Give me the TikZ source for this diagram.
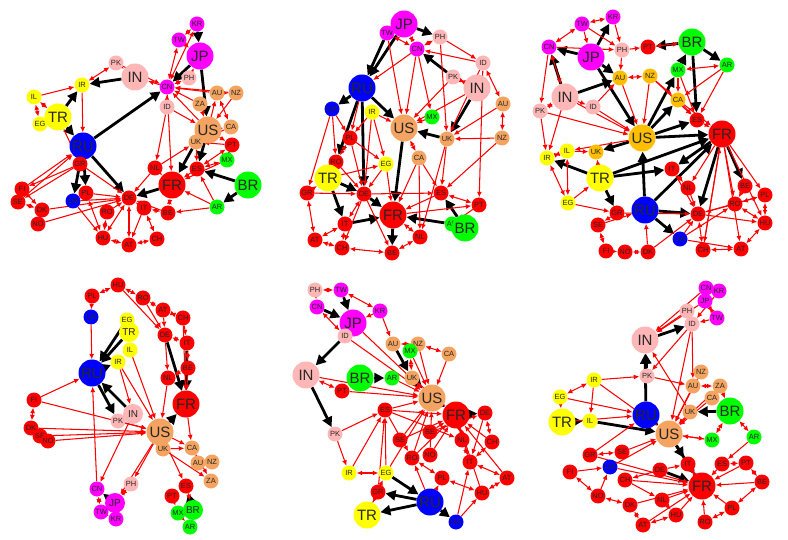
\documentclass[tikz,border=0pt]{standalone}
\usepackage{fontspec}
\setmainfont{Liberation Sans}
\usetikzlibrary{arrows.meta}
\pgfdeclarelayer{bg}
\pgfsetlayers{bg,main}
\definecolor{cR}{RGB}{255,0,0}
\definecolor{cB}{RGB}{0,0,255}
\definecolor{cY}{RGB}{255,255,0}
\definecolor{cM}{RGB}{255,0,255}
\definecolor{cP}{RGB}{255,182,182}
\definecolor{cO}{RGB}{244,164,96}
\definecolor{cG}{RGB}{0,255,0}
\definecolor{cA}{RGB}{255,190,0}
\tikzset{
 nd/.style={circle,inner sep=0pt,text=black!85,minimum size=15pt,font=\fontsize{7.5}{7.5}\selectfont},
 bg/.style={minimum size=27pt,font=\fontsize{15}{15}\selectfont},
 md/.style={minimum size=20pt,font=\fontsize{10}{10}\selectfont},
 R/.style={fill=cR},B/.style={fill=cB},Y/.style={fill=cY},M/.style={fill=cM},
 P/.style={fill=cP},O/.style={fill=cO},G/.style={fill=cG},A/.style={fill=cA},
 re/.style={draw=cR,line width=1.05pt,-{Latex[length=5.5pt,width=5pt]}},
 rb/.style={draw=cR,line width=1.05pt,{Latex[length=5.5pt,width=5pt]}-{Latex[length=5.5pt,width=5pt]}},
 be/.style={draw=black,line width=2.8pt,-{Triangle[length=10pt,width=10pt]}}
}
\newcommand\mk[5]{\node[nd,#5] (#1) at (#2,#3) {#4};}
\begin{document}
\begin{tikzpicture}[x=1pt,y=-1pt]
\begin{pgfonlayer}{bg}
\fill[white] (0,0) rectangle (788,540);
\end{pgfonlayer}
\useasboundingbox (0,0) rectangle (788,540);
% ---------- panel 1 ----------
\mk{aIL}{34}{97}{IL}{Y}\mk{aEG}{40}{124}{EG}{Y}\mk{aTR}{58}{117}{TR}{Y,bg}\mk{aIR}{82}{85}{IR}{Y}
\mk{aPK}{116}{63}{PK}{P}\mk{aIN}{135}{77}{IN}{P,bg}\mk{aKR}{197}{24}{KR}{M}\mk{aTW}{179}{40}{TW}{M}
\mk{aJP}{200}{56}{JP}{M,bg}\mk{aPH}{189}{78}{PH}{P}\mk{aCN}{167}{87}{CN}{M}\mk{aID}{167}{107}{ID}{P}
\mk{aAU}{217}{93}{AU}{O}\mk{aNZ}{236}{93}{NZ}{O}\mk{aZA}{200}{104}{ZA}{O}\mk{aUS}{208}{130}{US}{O,bg}
\mk{aCA}{231}{127}{CA}{O}\mk{aRU}{83}{146}{RU}{B,bg}\mk{aGR}{80}{164}{GR}{R}\mk{aUA}{73}{201}{UA}{B}
\mk{aPL}{86}{193}{PL}{R}\mk{aFI}{22}{189}{FI}{R}\mk{aSE}{18}{202}{SE}{R}\mk{aDK}{42}{210}{DK}{R}
\mk{aNO}{38}{224}{NO}{R}\mk{aDE}{129}{198}{DE}{R}\mk{aRO}{107}{212}{RO}{R}\mk{aHU}{103}{238}{HU}{R}
\mk{aAT}{129}{245}{AT}{R}\mk{aUK}{196}{142}{UK}{O}\mk{aPT}{232}{145}{PT}{R}\mk{aMX}{227}{160}{MX}{G}
\mk{aES}{197}{169}{ES}{R}\mk{aFR}{172}{185}{FR}{R,bg}\mk{aNL}{155}{168}{NL}{R}\mk{aBR}{248}{185}{BR}{G,bg}
\mk{aAR}{217}{207}{AR}{G}\mk{aBE}{168}{213}{BE}{R}\mk{aIT}{144}{208}{IT}{R}\mk{aCH}{157}{239}{CH}{R}
\begin{pgfonlayer}{bg}
\foreach \s/\t in {aIN/aIR,aTR/aIR,aTR/aRU,aRU/aCN,aJP/aUS,aJP/aCN,aKR/aJP,aRU/aUA,aRU/aPL,aRU/aDE,aUS/aES,aUK/aFR,aBR/aES,aBR/aAR,aMX/aPT,aFR/aDE}
 \draw[be] (\s) -- (\t);
\foreach \s/\t in {aIL/aTR,aIL/aEG,aEG/aTR,aIR/aPK,aPK/aIN,aCN/aTW,aCN/aKR,aTW/aKR,aCN/aPH,aAU/aNZ,aAU/aCA,aUS/aCA,aFI/aSE,aSE/aDK,aDK/aNO,aHU/aAT,aAT/aCH,aIT/aCH,aIT/aBE,aNL/aFR,aES/aPT,aMX/aES,aRO/aHU,aPL/aHU,aDE/aHU,aDE/aAT,aBE/aFR}
 \draw[rb] (\s) -- (\t);
\foreach \s/\t in {aIL/aIR,aIR/aRU,aTR/aGR,aGR/aFI,aGR/aSE,aFI/aDK,aNO/aDE,aDK/aDE,aUA/aDE,aPL/aDE,aGR/aDE,aRO/aDE,aIT/aDE,aNL/aDE,aNL/aUK,aES/aFR,aAR/aFR,aAR/aES,aAR/aBE,aMX/aFR,aPT/aUK,aCN/aIN,aPK/aCN,aPH/aJP,aTW/aJP,aID/aCN,aAU/aCN,aZA/aCN,aNZ/aCN,aUS/aCN,aID/aUS,aZA/aUS,aNZ/aUS,aUS/aAU,aCN/aFR,aID/aNL,aUK/aES,aUS/aUK,aFI/aRU,aSE/aRU,aUS/aPT,aCA/aUK,aUA/aHU,aGR/aRU,aIT/aAT,aBE/aDE}
 \draw[re] (\s) -- (\t);
\end{pgfonlayer}
% ---------- panel 2 ----------
\mk{bTW}{387}{33}{TW}{M}\mk{bJP}{404}{24}{JP}{M,bg}\mk{bPH}{440}{37}{PH}{P}\mk{bCN}{417}{49}{CN}{M}
\mk{bID}{483}{63}{ID}{P}\mk{bPK}{453}{77}{PK}{P}\mk{bIN}{477}{88}{IN}{P,bg}\mk{bRU}{362}{88}{RU}{B,bg}
\mk{bUA}{332}{109}{UA}{B}\mk{bIR}{372}{112}{IR}{Y}\mk{bUS}{404}{128}{US}{O,bg}\mk{bMX}{432}{117}{MX}{G}
\mk{bAU}{503}{104}{AU}{O}\mk{bUK}{447}{139}{UK}{O}\mk{bNZ}{502}{138}{NZ}{O}\mk{bPL}{350}{138}{PL}{R}
\mk{bRO}{336}{162}{RO}{R}\mk{bCA}{419}{158}{CA}{O}\mk{bEG}{386}{164}{EG}{Y}\mk{bTR}{328}{178}{TR}{Y,bg}
\mk{bGR}{307}{193}{GR}{R}\mk{bDE}{364}{194}{DE}{R}\mk{bES}{441}{193}{ES}{R}\mk{bPT}{479}{205}{PT}{R}
\mk{bFR}{393}{215}{FR}{R,bg}\mk{bIT}{345}{224}{IT}{R}\mk{bAR}{452}{224}{AR}{G}\mk{bBR}{465}{228}{BR}{G,bg}
\mk{bAT}{315}{240}{AT}{R}\mk{bCH}{342}{248}{CH}{R}\mk{bNL}{420}{237}{NL}{R}\mk{bBE}{392}{253}{BE}{R}
\begin{pgfonlayer}{bg}
\foreach \s/\t in {bTW/bRU,bJP/bRU,bRU/bUA,bRU/bUS,bRU/bDE,bRU/bRO,bTR/bIT,bTR/bDE,bIT/bFR,bUS/bFR,bAR/bFR,bBR/bES,bPK/bCN,bIN/bUK,bJP/bPH,bUK/bUS,bDE/bFR,bFR/bBE}
 \draw[be] (\s) -- (\t);
\foreach \s/\t in {bTW/bCN,bJP/bCN,bPH/bCN,bAU/bNZ,bPK/bIN,bUS/bCA,bES/bPT,bFR/bNL,bNL/bBE,bBE/bCH,bCH/bIT,bIT/bAT,bAT/bGR,bGR/bTR,bPL/bRO,bRO/bTR,bIT/bDE,bAT/bCH,bID/bAU}
 \draw[rb] (\s) -- (\t);
\foreach \s/\t in {bPH/bID,bID/bCN,bAU/bUK,bNZ/bUK,bID/bUK,bPK/bUS,bCN/bUS,bCN/bMX,bPH/bUK,bMX/bUS,bCA/bES,bUK/bES,bPT/bAR,bES/bFR,bNZ/bES,bCA/bFR,bUK/bNL,bGR/bDE,bRO/bDE,bPL/bDE,bPL/bEG,bEG/bDE,bEG/bFR,bIR/bEG,bUA/bRO,bUA/bPL,bUA/bGR,bDE/bCH,bIR/bUS,bIR/bPL,bDE/bES,bFR/bPT,bTW/bUS,bCN/bRU,bRU/bPL,bIR/bDE,bIN/bUS,bID/bPT,bTR/bEG,bCA/bNL,bDE/bBE}
 \draw[re] (\s) -- (\t);
\end{pgfonlayer}
% ---------- panel 3 ----------
\mk{cTW}{582}{24}{TW}{M}\mk{cKR}{613}{17}{KR}{M}\mk{cCN}{549}{47}{CN}{M}\mk{cJP}{591}{57}{JP}{M,bg}
\mk{cPH}{622}{50}{PH}{P}\mk{cPT}{648}{47}{PT}{R}\mk{cAU}{620}{78}{AU}{A}\mk{cNZ}{650}{76}{NZ}{A}
\mk{cIN}{565}{97}{IN}{P,bg}\mk{cID}{593}{107}{ID}{P}\mk{cPK}{540}{111}{PK}{P}\mk{cBR}{692}{42}{BR}{G,bg}
\mk{cAR}{727}{65}{AR}{G}\mk{cMX}{678}{70}{MX}{G}\mk{cCA}{678}{100}{CA}{A}\mk{cES}{697}{120}{ES}{R}
\mk{cFR}{722}{134}{FR}{R,bg}\mk{cUS}{642}{138}{US}{A,bg}\mk{cUK}{596}{152}{UK}{A}\mk{cIL}{567}{151}{IL}{Y}
\mk{cIR}{547}{158}{IR}{Y}\mk{cTR}{600}{178}{TR}{Y,bg}\mk{cEG}{568}{203}{EG}{Y}\mk{cGR}{617}{213}{GR}{R}
\mk{cRU}{645}{210}{RU}{B,bg}\mk{cSE}{598}{225}{SE}{R}\mk{cFI}{606}{251}{FI}{R}\mk{cNO}{625}{252}{NO}{R}
\mk{cDK}{648}{252}{DK}{R}\mk{cIT}{672}{169}{IT}{R}\mk{cNL}{688}{188}{NL}{R}\mk{cBE}{745}{186}{BE}{R}
\mk{cPL}{765}{195}{PL}{R}\mk{cRO}{735}{204}{RO}{R}\mk{cDE}{698}{214}{DE}{R}\mk{cHU}{765}{223}{HU}{R}
\mk{cUA}{680}{239}{UA}{B}\mk{cCH}{703}{250}{CH}{R}\mk{cAT}{741}{249}{AT}{R}
\begin{pgfonlayer}{bg}
\foreach \s/\t in {cJP/cCN,cJP/cKR,cJP/cAU,cIN/cAU,cJP/cUS,cIN/cCN,cBR/cPT,cBR/cAR,cMX/cBR,cBR/cES,cUS/cMX,cUS/cES,cUS/cUK,cTR/cIR,cTR/cFR,cTR/cGR,cRU/cUS,cRU/cFR,cUS/cFR,cFR/cIT,cFR/cBE,cRU/cDE,cRU/cUA,cFR/cDE,cUS/cCA,cTR/cIT}
 \draw[be] (\s) -- (\t);
\foreach \s/\t in {cTW/cKR,cTW/cCN,cCN/cIN,cPK/cIN,cAU/cNZ,cMX/cAR,cIL/cIR,cIL/cEG,cIR/cEG,cSE/cFI,cFI/cNO,cNO/cDK,cCH/cAT,cAT/cHU,cHU/cPL,cPL/cRO,cRO/cHU,cIT/cNL,cDE/cCH,cPT/cBR}
 \draw[rb] (\s) -- (\t);
\foreach \s/\t in {cTW/cJP,cTW/cPH,cKR/cPH,cIN/cID,cID/cAU,cPH/cAU,cPH/cPT,cNZ/cCA,cMX/cCA,cMX/cES,cCA/cES,cAR/cES,cAR/cCA,cES/cFR,cNZ/cES,cIL/cUK,cEG/cTR,cEG/cGR,cTR/cUK,cGR/cSE,cDK/cRU,cSE/cRU,cNL/cDE,cRO/cDE,cBE/cRO,cFR/cNL,cFR/cPL,cFR/cRO,cFR/cHU,cFR/cAT,cFR/cCH,cUA/cDE,cUA/cRO,cIT/cDE,cUS/cIL,cPK/cUS,cIN/cUS,cID/cUS,cAU/cUS,cNZ/cUS,cCA/cFR,cPK/cIR,cIN/cIR,cGR/cDE,cDK/cDE,cDE/cHU,cDE/cPL,cCN/cPK,cCN/cPH,cUA/cAT,cCH/cFR}
 \draw[re] (\s) -- (\t);
\end{pgfonlayer}
% ---------- panel 4 ----------
\mk{dHU}{118}{285}{HU}{R}\mk{dPL}{92}{296}{PL}{R}\mk{dRO}{143}{298}{RO}{R}\mk{dAT}{163}{310}{AT}{R}
\mk{dCH}{183}{318}{CH}{R}\mk{dUA}{91}{317}{UA}{B}\mk{dEG}{127}{320}{EG}{Y}\mk{dTR}{129}{332}{TR}{Y,md}
\mk{dIL}{130}{350}{IL}{Y}\mk{dDE}{165}{335}{DE}{R}\mk{dIT}{187}{343}{IT}{R}\mk{dBE}{188}{368}{BE}{R}
\mk{dNL}{168}{378}{NL}{R}\mk{dRU}{92}{373}{RU}{B,bg}\mk{dIR}{118}{362}{IR}{Y}\mk{dIN}{133}{414}{IN}{P,md}
\mk{dPK}{118}{421}{PK}{P}\mk{dFR}{186}{404}{FR}{R,bg}\mk{dUS}{160}{432}{US}{O,bg}\mk{dUK}{163}{449}{UK}{O}
\mk{dCA}{192}{448}{CA}{O}\mk{dAU}{198}{463}{AU}{O}\mk{dNZ}{212}{462}{NZ}{O}\mk{dZA}{211}{481}{ZA}{O}
\mk{dFI}{34}{400}{FI}{R}\mk{dSE}{40}{436}{SE}{R}\mk{dDK}{31}{428}{DK}{R}\mk{dNO}{48}{441}{NO}{R}
\mk{dPH}{131}{484}{PH}{P}\mk{dCN}{97}{489}{CN}{M}\mk{dJP}{115}{503}{JP}{M,md}\mk{dTW}{101}{512}{TW}{M}
\mk{dKR}{116}{519}{KR}{M}\mk{dMX}{178}{513}{MX}{G}\mk{dBR}{193}{510}{BR}{G,md}\mk{dAR}{190}{527}{AR}{G}
\mk{dPT}{172}{496}{PT}{R}\mk{dES}{186}{486}{ES}{R}
\begin{pgfonlayer}{bg}
\foreach \s/\t in {dRU/dIR,dEG/dRU,dTR/dRU,dIN/dRU,dRU/dPK,dUS/dFR,dDE/dFR,dIT/dFR,dUK/dUS,dBR/dMX,dBR/dES,dJP/dCN}
 \draw[be] (\s) -- (\t);
\foreach \s/\t in {dHU/dPL,dHU/dRO,dRO/dAT,dAT/dCH,dEG/dTR,dTR/dIL,dDE/dIT,dIT/dBE,dBE/dNL,dIN/dPK,dCA/dAU,dAU/dNZ,dFI/dDK,dDK/dSE,dSE/dNO,dCN/dTW,dTW/dKR,dJP/dPH,dMX/dAR}
 \draw[rb] (\s) -- (\t);
\foreach \s/\t in {dPL/dUA,dUA/dRU,dIR/dIN,dIL/dUS,dIR/dUS,dFI/dUS,dDK/dUS,dNO/dUS,dSE/dUS,dFI/dRU,dRO/dDE,dAT/dDE,dCH/dIT,dDE/dNL,dNL/dUS,dBE/dFR,dFR/dCA,dUS/dCA,dUS/dPH,dIN/dCN,dPH/dJP,dUK/dZA,dCA/dZA,dUS/dES,dES/dBR,dPT/dMX,dUS/dJP,dCN/dRU,dHU/dDE,dCH/dFR,dUK/dCA,dPK/dUS}
 \draw[re] (\s) -- (\t);
\end{pgfonlayer}
% ---------- panel 5 ----------
\mk{ePH}{315}{290}{PH}{P}\mk{eTW}{341}{290}{TW}{M}\mk{eCN}{317}{307}{CN}{M}\mk{eKR}{380}{311}{KR}{M}
\mk{eJP}{353}{323}{JP}{M,bg}\mk{eID}{345}{336}{ID}{P}\mk{eAU}{393}{344}{AU}{O}\mk{eNZ}{418}{344}{NZ}{O}
\mk{eMX}{410}{351}{MX}{G}\mk{eCA}{449}{354}{CA}{O}\mk{eBR}{360}{378}{BR}{G,bg}\mk{eAR}{392}{378}{AR}{G}
\mk{eUK}{412}{378}{UK}{O}\mk{eIN}{306}{375}{IN}{P,bg}\mk{ePT}{342}{391}{PT}{R}\mk{eUS}{432}{398}{US}{O,bg}
\mk{eFR}{456}{415}{FR}{R,bg}\mk{ePK}{335}{434}{PK}{P}\mk{eES}{385}{410}{ES}{R}\mk{eDE}{485}{413}{DE}{R}
\mk{eNL}{462}{440}{NL}{R}\mk{eIT}{470}{462}{IT}{R}\mk{eCH}{492}{442}{CH}{R}\mk{eAT}{507}{478}{AT}{R}
\mk{eHU}{482}{493}{HU}{R}\mk{eBE}{430}{432}{BE}{R}\mk{eIR}{349}{473}{IR}{Y}\mk{eEG}{386}{473}{EG}{Y}
\mk{eGR}{378}{492}{GR}{R}\mk{eTR}{367}{515}{TR}{Y,bg}\mk{eRU}{430}{502}{RU}{B,bg}\mk{eUA}{456}{522}{UA}{B}
\mk{ePL}{442}{478}{PL}{R}\mk{eRO}{412}{458}{RO}{R}\mk{eSE}{400}{440}{SE}{R}\mk{eNO}{430}{455}{NO}{R}
\begin{pgfonlayer}{bg}
\foreach \s/\t in {eCN/eJP,eTW/eJP,eIN/ePK,eID/eIN,eUS/eFR,eUK/eUS,eAU/eUK,eRU/eTR,eRU/eUA,eRU/eGR,eFR/eDE,eBR/eAR,eEG/eRU}
 \draw[be] (\s) -- (\t);
\foreach \s/\t in {ePH/eTW,eTW/eKR,eCN/eID,eAU/eNZ,eNZ/eCA,eMX/eUK,eIN/ePT,eIR/eEG,eGR/eTR,eDE/eCH,eCH/eIT,eIT/eAT,eAT/eHU,eNL/eIT,eFR/eNL,ePL/eRO,eHU/ePL}
 \draw[rb] (\s) -- (\t);
\foreach \s/\t in {ePH/eCN,eKR/eJP,eJP/eUS,eID/eUS,eKR/eAU,eCA/eUS,eNZ/eUS,eMX/eUS,ePT/eUS,eES/eFR,eES/eUS,eBE/eFR,eSE/eFR,eNO/eFR,eRO/eFR,eRO/eUS,ePK/eES,ePK/eIR,eIR/eES,eEG/eES,eEG/eUS,eGR/eES,eRU/ePL,eRU/eRO,eUA/eHU,eUA/eIT,eHU/eFR,eIT/eFR,eAT/eFR,eCH/eFR,eDE/eIT,eSE/eUS,eNO/eUS,eES/eRO,eES/eNL,eBE/eDE,eUK/eFR,eAR/eUS,eTR/eEG,eIN/eUS}
 \draw[re] (\s) -- (\t);
\end{pgfonlayer}
% ---------- panel 6 ----------
\mk{fCN}{706}{288}{CN}{M}\mk{fKR}{719}{291}{KR}{M}\mk{fJP}{705}{301}{JP}{M}\mk{fTW}{717}{318}{TW}{M}
\mk{fPH}{687}{311}{PH}{P}\mk{fIN}{645}{340}{IN}{P,bg}\mk{fID}{692}{324}{ID}{P}\mk{fPK}{647}{376}{PK}{P}
\mk{fAU}{693}{386}{AU}{O}\mk{fZA}{720}{386}{ZA}{O}\mk{fIR}{594}{380}{IR}{Y}\mk{fEG}{560}{397}{EG}{Y}
\mk{fIL}{590}{421}{IL}{Y}\mk{fTR}{562}{422}{TR}{Y,bg}\mk{fRU}{646}{415}{RU}{B,bg}\mk{fUS}{669}{434}{US}{O,bg}
\mk{fUK}{690}{412}{UK}{O}\mk{fBR}{730}{411}{BR}{G,bg}\mk{fMX}{712}{440}{MX}{G}\mk{fAR}{754}{437}{AR}{G}
\mk{fUA}{610}{467}{UA}{B}\mk{fFR}{702}{486}{FR}{R,bg}\mk{fDE}{660}{470}{DE}{R}\mk{fGR}{590}{455}{GR}{R}
\mk{fSE}{622}{452}{SE}{R}\mk{fFI}{570}{472}{FI}{R}\mk{fNO}{598}{496}{NO}{R}\mk{fDK}{630}{505}{DK}{R}
\mk{fNL}{662}{500}{NL}{R}\mk{fIT}{688}{464}{IT}{R}\mk{fES}{722}{464}{ES}{R}\mk{fPT}{746}{463}{PT}{R}
\mk{fBE}{762}{482}{BE}{R}\mk{fPL}{732}{508}{PL}{R}\mk{fHU}{676}{515}{HU}{R}\mk{fAT}{643}{525}{AT}{R}
\mk{fCH}{625}{480}{CH}{R}\mk{fRO}{705}{522}{RO}{R}\mk{fCA}{712}{398}{CA}{O}\mk{fNZ}{701}{372}{NZ}{O}
\begin{pgfonlayer}{bg}
\foreach \s/\t in {fRU/fIN,fTR/fIL,fIL/fUS,fRU/fUS,fUS/fFR,fDE/fFR,fUS/fIT,fBR/fUK,fIN/fID,fPK/fIN}
 \draw[be] (\s) -- (\t);
\foreach \s/\t in {fCN/fKR,fJP/fTW,fIR/fEG,fEG/fTR,fBR/fMX,fBR/fAR,fAU/fZA,fES/fPT,fPT/fBE,fBE/fPL,fPL/fRO,fHU/fAT,fDK/fAT,fNO/fDK,fFI/fNO,fGR/fSE,fFR/fIT}
 \draw[rb] (\s) -- (\t);
\foreach \s/\t in {fPH/fIN,fJP/fIN,fCN/fIN,fID/fPK,fIR/fPK,fIR/fIL,fPK/fAU,fID/fAU,fAU/fUS,fZA/fUS,fNZ/fUS,fCA/fUS,fMX/fUS,fUK/fUS,fPH/fID,fID/fUS,fTR/fRU,fGR/fRU,fUA/fUS,fSE/fUS,fFI/fUA,fNO/fUA,fDK/fFR,fNL/fFR,fHU/fFR,fRO/fFR,fPL/fFR,fBE/fFR,fPT/fFR,fES/fFR,fIT/fFR,fCH/fFR,fAT/fFR,fGR/fFR,fEG/fRU,fUA/fFR,fCH/fNL,fNL/fHU,fDE/fCH,fDE/fIT,fTW/fID,fKR/fID,fZA/fBR,fAR/fES,fUK/fIN,fUS/fMX,fIR/fUS}
 \draw[re] (\s) -- (\t);
\end{pgfonlayer}
\end{tikzpicture}
\end{document}
